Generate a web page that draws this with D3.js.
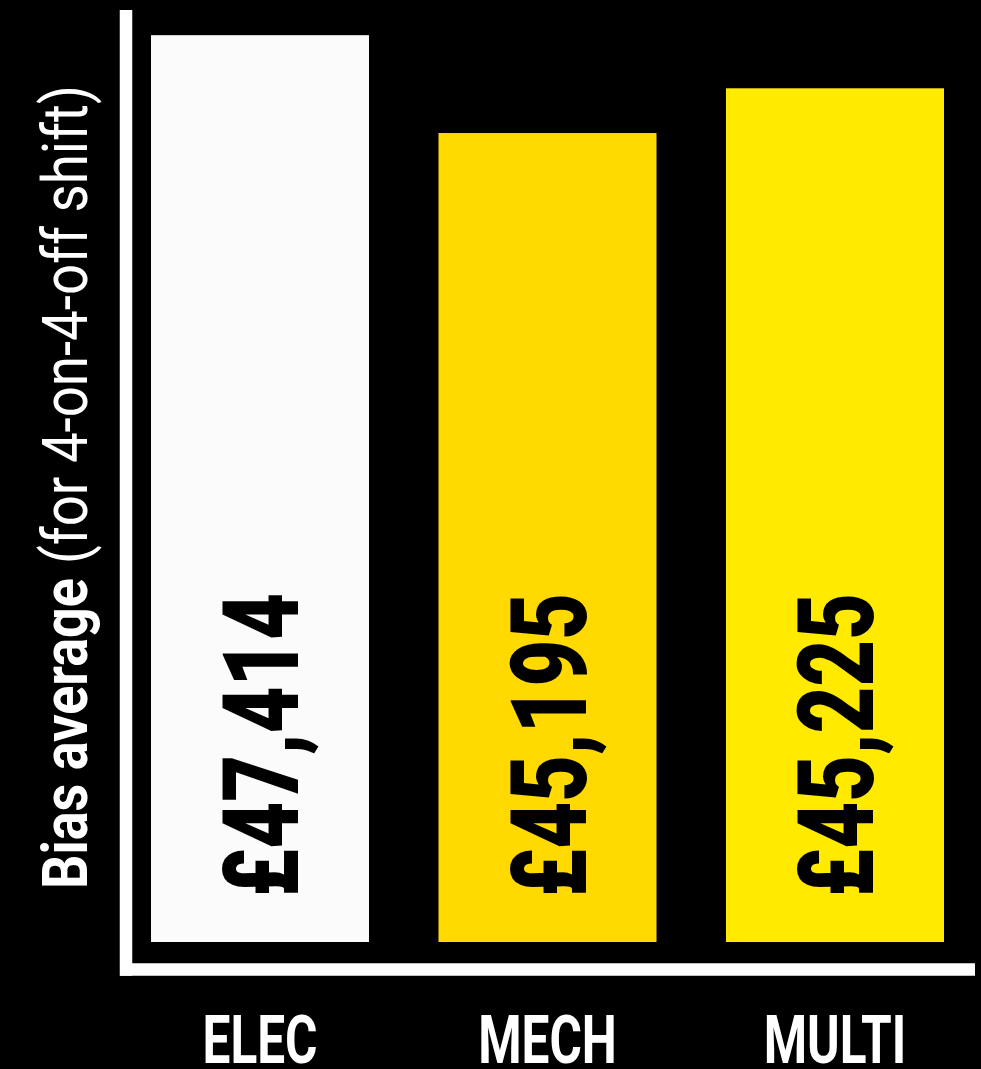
<!DOCTYPE html>
<html>
<head>
<meta charset="utf-8">
<script src="https://cdn.jsdelivr.net/npm/d3@7"></script>
<style>
  html, body { margin: 0; padding: 0; background: #000; }
  svg { display: block; }
</style>
</head>
<body>
<svg id="chart" width="981" height="1069"></svg>
<script>
// ---- data ----
const categories = ["ELEC", "MECH", "MULTI"];
const salaryLabels = ["£47,414", "£45,195", "£45,225"];
// bar heights as drawn in the picture (percent of axis height)
const barHeights = [97.3, 86.8, 91.6];
const barColors = ["#fbfbfb", "#ffd900", "#ffea00"];
const titleBold = "Bias average";
const titleRegular = "(for 4-on-4-off shift)";

const svg = d3.select("#chart");
svg.append("rect").attr("width", 981).attr("height", 1069).attr("fill", "#000");

const x = d3.scaleBand().domain(categories).range([151, 944]).paddingInner(0.2417).paddingOuter(0);
const y = d3.scaleLinear().domain([0, 100]).range([942, 10]);

// bars
svg.selectAll("rect.bar").data(categories).join("rect")
  .attr("class", "bar")
  .attr("x", d => x(d))
  .attr("width", x.bandwidth())
  .attr("y", (d, i) => y(barHeights[i]))
  .attr("height", (d, i) => y(0) - y(barHeights[i]))
  .attr("fill", (d, i) => barColors[i]);

// axis lines
const axisW = 12.5;
svg.append("line").attr("x1", 126).attr("x2", 126).attr("y1", 10).attr("y2", 975.7)
  .attr("stroke", "#fff").attr("stroke-width", axisW);
svg.append("line").attr("x1", 120).attr("x2", 975).attr("y1", 969.5).attr("y2", 969.5)
  .attr("stroke", "#fff").attr("stroke-width", axisW);

// category labels via d3 axis
const xAxis = svg.append("g").attr("transform", "translate(0,1063)")
  .call(d3.axisBottom(x).tickSize(0).tickPadding(0));
xAxis.select(".domain").remove();
xAxis.selectAll("text")
  .attr("dy", 0).attr("y", 0)
  .attr("fill", "#fff")
  .style("font-family", "Roboto, 'DejaVu Sans Condensed', sans-serif")
  .style("font-weight", 700)
  .style("font-size", "66px");
{
  const nodes = xAxis.selectAll("text").nodes();
  const nat = nodes.map(n => n.getComputedTextLength());
  const f = 115 / nat[0];
  nodes.forEach((n, i) => {
    n.setAttribute("textLength", nat[i] * f);
    n.setAttribute("lengthAdjust", "spacingAndGlyphs");
  });
}

// value labels inside bars (rotated)
const vl = svg.selectAll("text.val").data(categories).join("text")
  .attr("class", "val")
  .attr("transform", d => `translate(${x(d) + x.bandwidth() / 2 + 38},897) rotate(-90)`)
  .attr("text-anchor", "start")
  .attr("fill", "#000")
  .style("font-family", "Roboto, sans-serif")
  .style("font-weight", 900)
  .style("font-size", "105px")
  .text((d, i) => salaryLabels[i]);
{
  const nodes = vl.nodes();
  const nat = nodes.map(n => n.getComputedTextLength());
  const f = 304 / nat[0];
  nodes.forEach((n, i) => {
    n.setAttribute("textLength", nat[i] * f);
    n.setAttribute("lengthAdjust", "spacingAndGlyphs");
  });
}

// y axis title
const t = svg.append("text")
  .attr("transform", "translate(87,889) rotate(-90)")
  .attr("fill", "#fff")
  .style("font-family", "Roboto, sans-serif")
  .style("font-size", "63px");
t.append("tspan").style("font-weight", 700).attr("textLength", 311).attr("lengthAdjust", "spacingAndGlyphs").text(titleBold);
t.append("tspan").attr("dx", 14).style("font-weight", 400).attr("textLength", 479).attr("lengthAdjust", "spacingAndGlyphs").text(titleRegular);
</script>
</body>
</html>
